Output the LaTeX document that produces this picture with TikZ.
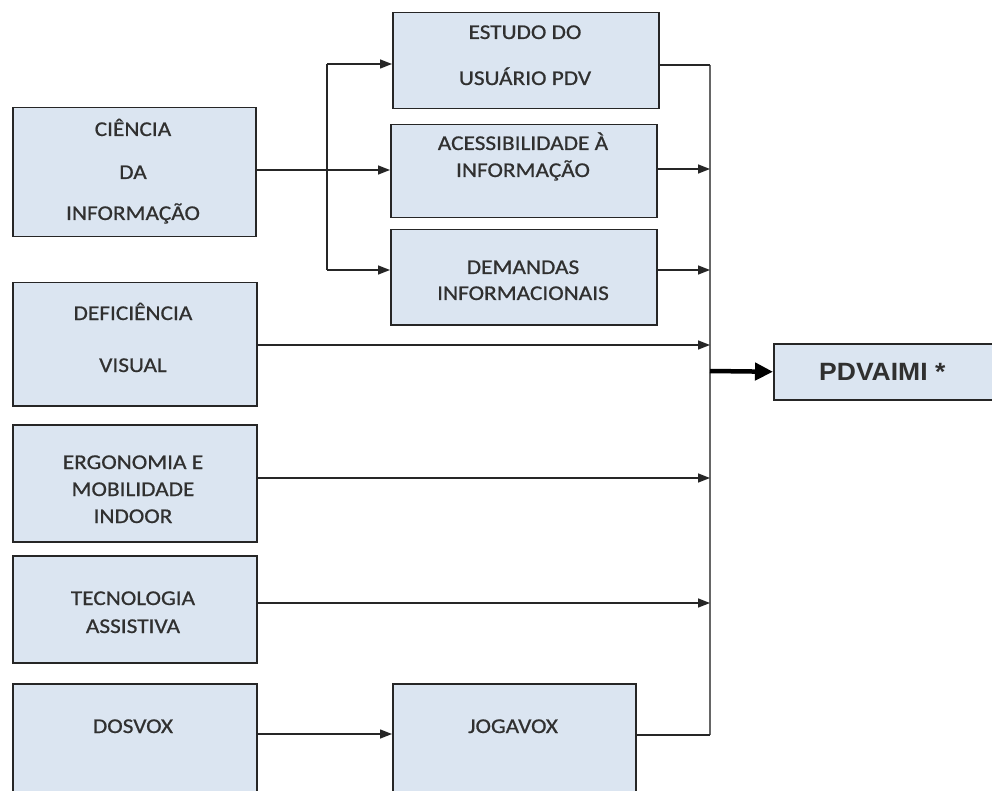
\documentclass[tikz,border=0pt]{standalone}
\usepackage{fontspec}
\setmainfont{Carlito}[FakeStretch=1.11,FakeBold=0.7]
\newfontfamily\arialfont{Liberation Sans}[FakeStretch=1.06]
\usetikzlibrary{arrows.meta}
\definecolor{boxfill}{HTML}{DBE5F1}
\definecolor{txt}{HTML}{303030}
\begin{document}
\begin{tikzpicture}[x=1pt,y=-1pt,
  box/.style={draw=black!85,line width=1.5pt,fill=boxfill,inner sep=0pt,anchor=north west},
  lbl/.style={anchor=base,inner sep=0pt,text=txt,font=\fontsize{21}{21}\selectfont},
  conn/.style={draw=black!85,line width=1.4pt},
  arr/.style={conn,-{Triangle[length=12pt,width=9pt]}},
  busline/.style={draw=black!60,line width=2.4pt},
  bigarrow/.style={draw=black,line width=4.5pt,-{Triangle[length=18pt,width=17pt]}}]
\useasboundingbox (0,0) rectangle (992,791);
\fill[white] (0,0) rectangle (992,791);

% boxes
\node[box,minimum width=243pt,minimum height=129pt] (ci) at (12,107) {};
\node[box,minimum width=244pt,minimum height=123pt] (def) at (12,282) {};
\node[box,minimum width=244pt,minimum height=117pt] (ergo) at (12,424) {};
\node[box,minimum width=244pt,minimum height=107pt] (tec) at (12,555) {};
\node[box,minimum width=244pt,minimum height=150pt] (dos) at (12,683) {};
\node[box,minimum width=266pt,minimum height=96pt] (est) at (392,12) {};
\node[box,minimum width=266pt,minimum height=93pt] (acc) at (390,124) {};
\node[box,minimum width=266pt,minimum height=95pt] (dem) at (390,229) {};
\node[box,minimum width=243pt,minimum height=150pt] (jog) at (392,683) {};
\node[box,minimum width=240pt,minimum height=56pt] (pdv) at (773,343) {};

% labels
\node[lbl] (ci1) at (133,136) {CIÊNCIA};
\node[lbl] (ci2) at (133,179) {DA};
\node[lbl] (ci3) at (133,220) {INFORMAÇÃO};
\node[lbl] (est1) at (525,39) {ESTUDO DO};
\node[lbl] (est2) at (525,85) {USUÁRIO PDV};
\node[lbl] (acc1) at (523,150) {ACESSIBILIDADE À};
\node[lbl] (acc2) at (523,177) {INFORMAÇÃO};
\node[lbl] (dem1) at (523,274) {DEMANDAS};
\node[lbl] (dem2) at (523,300) {INFORMACIONAIS};
\node[lbl] (def1) at (133,320) {DEFICIÊNCIA};
\node[lbl] (def2) at (133,372) {VISUAL};
\node[lbl] (ergo1) at (133,469) {ERGONOMIA E};
\node[lbl] (ergo2) at (133,496) {MOBILIDADE};
\node[lbl] (ergo3) at (133,523) {INDOOR};
\node[lbl] (tec1) at (133,605) {TECNOLOGIA};
\node[lbl] (tec2) at (133,633) {ASSISTIVA};
\node[lbl] (dos1) at (133,733) {DOSVOX};
\node[lbl] (jog1) at (513,733) {JOGAVOX};
\node[anchor=base west,inner sep=0pt,text=txt,font=\arialfont\bfseries\fontsize{25}{25}\selectfont] (pdv1) at (819,380) {PDVAIMI *};

% coordinates
\coordinate (s1) at (327,64);
\coordinate (s2) at (327,270);
\coordinate (btop) at (710,65);
\coordinate (bbot) at (710,735);
\coordinate (bmid) at (710,371);

% bus
\draw[busline] (btop) -- (bbot);
\draw[conn] (est.east |- btop) -- (btop);
\draw[conn] (jog.east |- bbot) -- (bbot);

% splitter from Ciencia
\draw[arr] (ci.east |- 0,170) -- (acc.west |- 0,170);
\draw[conn] (s1) -- (s2);
\draw[arr] (s1) -- (est.west |- s1);
\draw[arr] (s2) -- (dem.west |- s2);

% into bus
\draw[arr] (acc.east |- 0,169) -- (710,169);
\draw[arr] (dem.east |- 0,270) -- (710,270);
\draw[arr] (def.east |- 0,345) -- (710,345);
\draw[arr] (ergo.east |- 0,478) -- (710,478);
\draw[arr] (tec.east |- 0,603) -- (710,603);
\draw[arr] (dos.east |- 0,734) -- (jog.west |- 0,734);

% output
\draw[bigarrow] (bmid) -- (pdv.west);
\end{tikzpicture}
\end{document}
